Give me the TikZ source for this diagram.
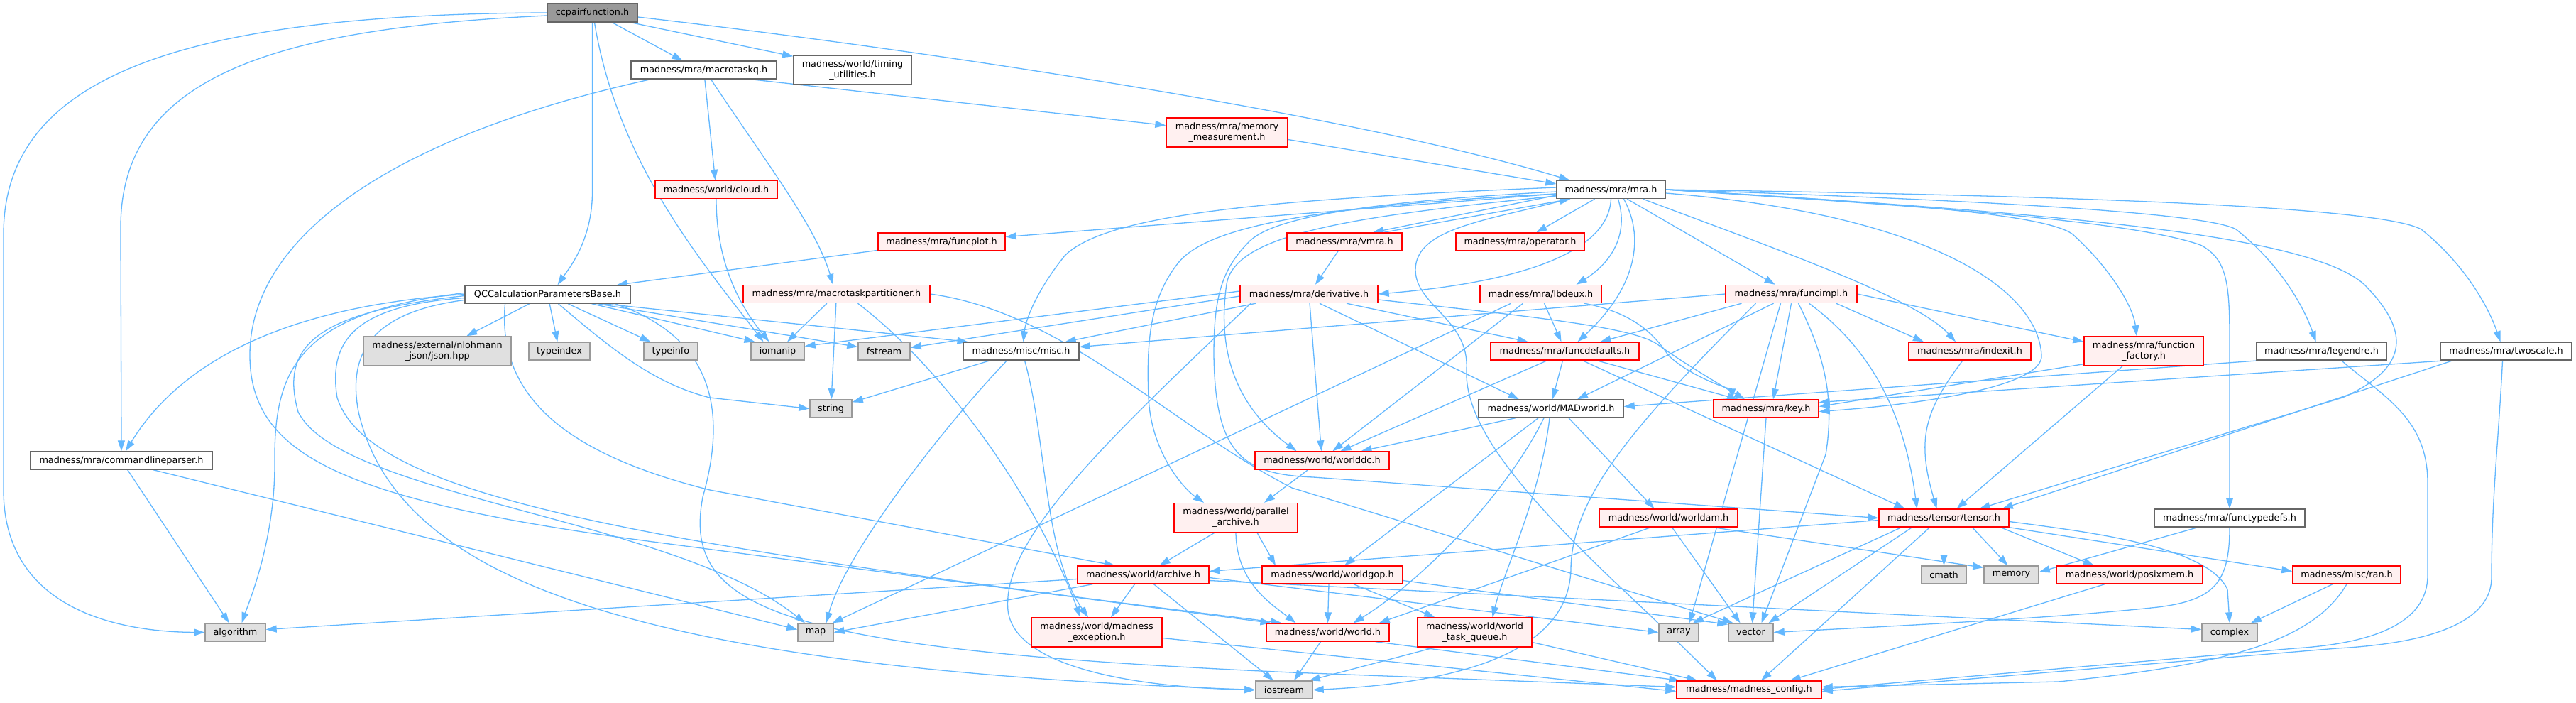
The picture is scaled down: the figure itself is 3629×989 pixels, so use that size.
\documentclass[tikz,border=0pt]{standalone}
\usepackage{fontspec}
\newfontfamily\dvs{DejaVu Sans}
\usetikzlibrary{arrows.meta,calc}
\definecolor{edgeblue}{HTML}{63B8FF}
\definecolor{redfill}{HTML}{FFF0F0}
\definecolor{grayfill}{HTML}{E0E0E0}
\definecolor{gborder}{HTML}{999999}
\definecolor{wborder}{HTML}{666666}
\definecolor{mainfill}{HTML}{999999}
\pgfdeclarelayer{bg}\pgfsetlayers{bg,main}
\newcommand{\nf}{\dvs\fontsize{12.8}{15}\selectfont}
\tikzset{
 base/.style={rectangle, line width=1.4pt, minimum height=25pt, inner sep=0pt, font=\nf, align=center, text=black},
 tall/.style={minimum height=41pt},
 wnode/.style={base, fill=white, draw=wborder},
 gnode/.style={base, fill=grayfill, draw=gborder},
 rnode/.style={base, fill=redfill, draw=red},
 cnode/.style={base, fill=mainfill, draw=wborder},
 e/.style={draw=edgeblue, line width=1.3pt, -{Triangle[length=15pt,width=10pt]}},
}
\begin{document}
\begin{tikzpicture}[x=1pt,y=-1pt]
\useasboundingbox (0,0) rectangle (3629,989);
\node[cnode, minimum width=127pt, minimum height=26pt] (ccpair) at (834.5,18) {ccpairfunction.h};
\node[wnode, minimum width=205pt] (macrotaskq) at (991.5,98.5) {madness/mra/macrotaskq.h};
\node[wnode, tall, minimum width=166pt] (timing) at (1201,98.5) {madness/world/timing\\\_utilities.h};
\node[rnode, tall, minimum width=171pt] (memmeas) at (1728.5,186.5) {madness/mra/memory\\\_measurement.h};
\node[rnode, minimum width=172pt] (cloud) at (1009,267) {madness/world/cloud.h};
\node[wnode, minimum width=153pt] (mra) at (2269.5,267) {madness/mra/mra.h};
\node[rnode, minimum width=179pt] (funcplot) at (1326.5,340.5) {madness/mra/funcplot.h};
\node[rnode, minimum width=162pt] (vmra) at (1894,340.5) {madness/mra/vmra.h};
\node[rnode, minimum width=181pt] (operator) at (2141.5,340.5) {madness/mra/operator.h};
\node[wnode, minimum width=233pt] (QC) at (771.5,414.5) {QCCalculationParametersBase.h};
\node[rnode, minimum width=263pt] (partitioner) at (1178.5,414) {madness/mra/macrotaskpartitioner.h};
\node[rnode, minimum width=194pt] (derivative) at (1844,414) {madness/mra/derivative.h};
\node[rnode, minimum width=171pt] (lbdeux) at (2170.5,414) {madness/mra/lbdeux.h};
\node[rnode, minimum width=185pt] (funcimpl) at (2523.5,414) {madness/mra/funcimpl.h};
\node[gnode, tall, minimum width=208pt] (json) at (616,494.5) {madness/external/nlohmann\\\_json/json.hpp};
\node[gnode, minimum width=86pt] (typeindex) at (788,494.5) {typeindex};
\node[gnode, minimum width=76pt] (typeinfo) at (945,494.5) {typeinfo};
\node[gnode, minimum width=75pt] (iomanip) at (1095.5,494.5) {iomanip};
\node[gnode, minimum width=73pt] (fstream) at (1245.5,494.5) {fstream};
\node[wnode, minimum width=163pt] (misc) at (1438.5,494.5) {madness/misc/misc.h};
\node[rnode, minimum width=209pt] (funcdefaults) at (2204.5,494.5) {madness/mra/funcdefaults.h};
\node[rnode, minimum width=172pt] (indexit) at (2775,494.5) {madness/mra/indexit.h};
\node[rnode, tall, minimum width=168pt] (ffactory) at (3020,494.5) {madness/mra/function\\\_factory.h};
\node[wnode, minimum width=183pt] (legendre) at (3270.5,494.5) {madness/mra/legendre.h};
\node[wnode, minimum width=185pt] (twoscale) at (3530.5,494.5) {madness/mra/twoscale.h};
\node[gnode, minimum width=59pt] (string) at (1170.5,575.5) {string};
\node[wnode, minimum width=204pt] (MADworld) at (2185,575.5) {madness/world/MADworld.h};
\node[rnode, minimum width=148pt] (key) at (2488,575.5) {madness/mra/key.h};
\node[wnode, minimum width=256pt] (clp) at (171,648.5) {madness/mra/commandlineparser.h};
\node[rnode, minimum width=189pt] (worlddc) at (1862.5,648.5) {madness/world/worlddc.h};
\node[rnode, tall, minimum width=174pt] (parch) at (1741,729) {madness/world/parallel\\\_archive.h};
\node[rnode, minimum width=195pt] (worldam) at (2350.5,729.5) {madness/world/worldam.h};
\node[rnode, minimum width=183pt] (tensor) at (2738.5,729.5) {madness/tensor/tensor.h};
\node[wnode, minimum width=212pt] (functypedefs) at (3141,729.5) {madness/mra/functypedefs.h};
\node[rnode, minimum width=185pt] (archive) at (1610.5,809.5) {madness/world/archive.h};
\node[rnode, minimum width=198pt] (worldgop) at (1877,809.5) {madness/world/worldgop.h};
\node[gnode, minimum width=63pt] (cmath) at (2738.5,809.5) {cmath};
\node[gnode, minimum width=77pt] (memory) at (2833.5,809.5) {memory};
\node[rnode, minimum width=206pt] (posixmem) at (3000,809.5) {madness/world/posixmem.h};
\node[rnode, minimum width=152pt] (ran) at (3306,809.5) {madness/misc/ran.h};
\node[gnode, minimum width=85pt] (algorithm) at (331.5,890.5) {algorithm};
\node[gnode, minimum width=50pt] (map) at (1149,890.5) {map};
\node[rnode, tall, minimum width=184pt] (madexc) at (1545,890.5) {madness/world/madness\\\_exception.h};
\node[rnode, minimum width=173pt] (world) at (1870.5,890.5) {madness/world/world.h};
\node[rnode, tall, minimum width=161pt] (taskq) at (2077.5,890.5) {madness/world/world\\\_task\_queue.h};
\node[gnode, minimum width=56pt] (array) at (2365,890.5) {array};
\node[gnode, minimum width=63pt] (vector) at (2466.5,890.5) {vector};
\node[gnode, minimum width=78pt] (complex) at (3141,890.5) {complex};
\node[gnode, minimum width=80pt] (iostream) at (1809,971.5) {iostream};
\node[rnode, minimum width=204pt] (madconfig) at (2464,971.5) {madness/madness\_config.h};

\begin{pgfonlayer}{bg}
\fill[white] (0,0) rectangle (3629,989);
% ccpairfunction.h
\draw[e] (ccpair.west) .. controls (250,20) and (5,110) .. (5,330) -- (5,690) .. controls (5,860) and (170,890) .. (algorithm.west);
\draw[e] ($(ccpair.west)+(0,4)$) .. controls (380,40) and (170,110) .. (170,320) -- (clp.north);
\draw[e] (ccpair.south) -- (834.5,270) .. controls (834.5,340) and (800,380) .. ($(QC.north)+(14,0)$);
\draw[e] ($(ccpair.south)+(3,0)$) .. controls (870,230) and (990,370) .. ($(iomanip.north)+(-20,0)$);
\draw[e] ($(ccpair.south)+(28,0)$) -- ($(macrotaskq.north)+(-30,0)$);
\draw[e] ($(ccpair.south east)+(-10,0)$) -- ($(timing.north west)+(0,2)$);
\draw[e] ($(ccpair.east)+(0,6)$) .. controls (1300,70) and (1900,160) .. ($(mra.north)+(-58,0)$);
% macrotaskq
\draw[e] (macrotaskq) -- (cloud);
\draw[e] ($(macrotaskq.south)+(10,0)$) .. controls (1080,230) and (1150,320) .. ($(partitioner.north)+(-5,0)$);
\draw[e] ($(macrotaskq.south east)+(-37,0)$) -- ($(memmeas.west)+(0,-10)$);
\draw[e] ($(macrotaskq.south)+(-75,0)$) .. controls (560,190) and (352,330) .. (352,500) .. controls (352,640) and (480,705) .. (920,763) -- ($(world.north)+(-80,0)$);
\draw[e] (cloud.south) .. controls (1009,380) and (1050,440) .. ($(iomanip.north)+(-12,0)$);
\draw[e] ($(memmeas.east)+(0,10)$) -- ($(mra.west)+(0,-8)$);
% partitioner
\draw[e] (partitioner) -- (iomanip);
\draw[e] (partitioner) -- (string);
\draw[e] ($(partitioner.south)+(30,0)$) .. controls (1330,520) and (1460,700) .. ($(madexc.north)+(-23,0)$);
\draw[e] (partitioner.east) .. controls (1500,440) and (1650,600) .. (1820,687) -- ($(vector.north)+(-25,0)$);
\draw[e] (funcplot) -- ($(QC.north east)+(-20,0)$);
% QC
\draw[e] (QC.west) .. controls (420,430) and (260,500) .. ($(clp.north)+(6,0)$);
\draw[e] ($(QC.west)+(0,-2)$) .. controls (420,440) and (386,520) .. (387,650) .. controls (388,760) and (350,850) .. ($(algorithm.north)+(9,0)$);
\draw[e] ($(QC.west)+(0,2)$) .. controls (440,440) and (395,490) .. (420,580) .. controls (480,700) and (950,730) .. ($(map.north)+(-15,0)$);
\draw[e] ($(QC.west)+(0,5)$) .. controls (500,430) and (462,480) .. (475,560) .. controls (520,700) and (900,765) .. ($(world.north)+(-65,0)$);
\draw[e] ($(QC.west)+(0,8)$) .. controls (520,440) and (490,500) .. (505,580) .. controls (560,820) and (900,940) .. (iostream.west);
\draw[e] (QC) -- (json);
\draw[e] (QC) -- (typeindex);
\draw[e] (QC) -- (typeinfo);
\draw[e] ($(QC.south)+(15,0)$) .. controls (860,490) and (920,540) .. (1000,560) -- (string.west);
\draw[e] ($(QC.south)+(62,0)$) -- ($(iomanip.north)+(-32,0)$);
\draw[e] ($(QC.south)+(70,0)$) -- ($(fstream.west)+(0,-6)$);
\draw[e] ($(QC.south)+(78,0)$) -- ($(misc.north)+(-75,0)$);
\draw[e] ($(QC.south)+(95,0)$) .. controls (990,470) and (1030,560) .. (990,700) .. controls (960,860) and (1100,915) .. (1820,947) -- ($(madconfig.west)+(0,-4)$);
\draw[e] ($(QC.south)+(-60,0)$) .. controls (700,560) and (800,640) .. (1000,690) -- ($(archive.north)+(-40,0)$);
% commandlineparser
\draw[e] (clp) -- (algorithm);
\draw[e] ($(clp.south)+(45,0)$) -- ($(map.west)+(0,-4)$);
% misc
\draw[e] (misc) -- (string);
\draw[e] ($(misc.south)+(-20,0)$) .. controls (1330,600) and (1190,780) .. ($(map.north)+(15,0)$);
\draw[e] ($(misc.south)+(5,0)$) .. controls (1475,620) and (1470,780) .. ($(madexc.north)+(-12,0)$);
% mra
\draw[e] (mra) -- (funcplot);
\draw[e] ($(mra.west)+(0,8)$) -- ($(vmra.north)+(40,0)$);
\draw[e] ($(vmra.north)+(55,0)$) -- ($(mra.south west)+(20,0)$);
\draw[e] (mra) -- (operator);
\draw[e] (mra.south) .. controls (2265,380) and (2050,405) .. (derivative.east);
\draw[e] ($(mra.south)+(10,0)$) .. controls (2295,330) and (2270,370) .. ($(lbdeux.north)+(50,0)$);
\draw[e] ($(mra.south)+(18,0)$) .. controls (2320,340) and (2300,410) .. ($(funcdefaults.north)+(18,0)$);
\draw[e] (mra) -- (funcimpl);
\draw[e] ($(mra.south)+(45,0)$) .. controls (2500,350) and (2700,420) .. ($(indexit.north)+(-20,0)$);
\draw[e] (mra.east) .. controls (2650,285) and (2880,300) .. (2920,330) .. controls (2970,375) and (3005,430) .. ($(ffactory.north)+(-10,0)$);
\draw[e] (mra.east) .. controls (2800,282) and (3110,300) .. (3150,323) .. controls (3210,370) and (3245,430) .. ($(legendre.north)+(-8,0)$);
\draw[e] (mra.east) .. controls (2900,275) and (3350,290) .. (3411,323) .. controls (3470,370) and (3505,430) .. ($(twoscale.north)+(-8,0)$);
\draw[e] (mra.east) .. controls (2700,290) and (3000,310) .. (3100,345) .. controls (3138,365) and (3141,400) .. (3141,480) -- (functypedefs.north);
\draw[e] (mra.east) .. controls (2900,300) and (3250,330) .. (3330,400) .. controls (3400,470) and (3390,520) .. (3300,560) -- ($(tensor.north)+(50,0)$);
\draw[e] ($(mra.east)+(0,5)$) .. controls (2700,300) and (2870,400) .. (2876,500) .. controls (2880,545) and (2700,570) .. ($(key.east)+(0,4)$);
\draw[e] ($(mra.west)+(0,-3)$) .. controls (1800,280) and (1560,300) .. (1500,360) .. controls (1460,410) and (1445,450) .. ($(misc.north)+(3,0)$);
\draw[e] ($(mra.west)+(0,3)$) .. controls (1900,285) and (1790,310) .. (1760,340) .. controls (1720,380) and (1710,420) .. (1710,500) .. controls (1712,640) and (1750,668) .. (1850,672) -- (tensor.west);
\draw[e] ($(mra.west)+(0,6)$) .. controls (1850,290) and (1700,320) .. (1660,370) .. controls (1620,420) and (1615,480) .. (1618,560) .. controls (1622,640) and (1670,690) .. ($(parch.north)+(-45,0)$);
\draw[e] ($(mra.west)+(0,9)$) .. controls (1900,305) and (1740,330) .. (1728,400) .. controls (1718,470) and (1725,560) .. ($(worlddc.north)+(-36,0)$);
\draw[e] ($(mra.south)+(-60,0)$) .. controls (2100,310) and (1994,320) .. (1994,380) .. controls (1994,430) and (2070,450) .. (2066,520) .. controls (2062,600) and (2150,700) .. (2270,815) .. controls (2350,890) and (2390,930) .. ($(madconfig.north)+(-45,0)$);
\draw[e] (vmra) -- (derivative);
% derivative
\draw[e] ($(derivative.west)+(0,-4)$) -- ($(iomanip.east)+(0,-7)$);
\draw[e] ($(derivative.west)+(0,3)$) -- ($(fstream.east)+(0,-5)$);
\draw[e] ($(derivative.south)+(-75,0)$) -- ($(misc.north east)+(-20,0)$);
\draw[e] ($(derivative.south)+(-82,0)$) .. controls (1560,620) and (1410,760) .. (1420,860) .. controls (1430,940) and (1600,968) .. (iostream.west);
\draw[e] (derivative) -- (worlddc);
\draw[e] ($(derivative.south)+(15,0)$) -- ($(MADworld.north)+(-45,0)$);
\draw[e] ($(derivative.south)+(53,0)$) -- ($(funcdefaults.north)+(-52,0)$);
\draw[e] ($(derivative.east)+(0,8)$) .. controls (2150,445) and (2300,460) .. (2335,485) .. controls (2370,510) and (2420,540) .. ($(key.north)+(-30,0)$);
% lbdeux
\draw[e] ($(lbdeux.south)+(-42,0)$) -- ($(map.north east)+(-2,0)$);
\draw[e] ($(lbdeux.south)+(-25,0)$) -- ($(worlddc.north)+(15,0)$);
\draw[e] ($(lbdeux.south)+(5,0)$) -- ($(funcdefaults.north)+(-5,0)$);
\draw[e] ($(lbdeux.south east)+(-25,0)$) .. controls (2300,440) and (2330,470) .. (2350,500) .. controls (2380,530) and (2440,550) .. ($(key.north)+(-48,0)$);
% funcimpl
\draw[e] (funcimpl.west) -- ($(misc.east)+(0,-6)$);
\draw[e] ($(funcimpl.south)+(-70,0)$) -- ($(funcdefaults.north)+(50,0)$);
\draw[e] ($(funcimpl.south)+(-25,0)$) -- ($(MADworld.north)+(37,0)$);
\draw[e] ($(funcimpl.south)+(-15,0)$) -- ($(array.north)+(15,0)$);
\draw[e] ($(funcimpl.south)+(0,0)$) -- ($(key.north)+(10,0)$);
\draw[e] ($(funcimpl.south)+(10,0)$) .. controls (2570,500) and (2585,560) .. (2572,640) -- ($(vector.north)+(15,0)$);
\draw[e] ($(funcimpl.south)+(25,0)$) .. controls (2620,480) and (2680,560) .. ($(tensor.north)+(-38,0)$);
\draw[e] ($(funcimpl.south east)+(-30,0)$) -- ($(indexit.north)+(-65,0)$);
\draw[e] (funcimpl.east) -- ($(ffactory.north west)+(0,8)$);
\draw[e] ($(funcimpl.south)+(-50,0)$) .. controls (2300,600) and (2215,700) .. (2213,800) .. controls (2212,900) and (2100,960) .. (iostream.east);
% funcdefaults
\draw[e] ($(funcdefaults.south)+(-25,0)$) -- ($(worlddc.north)+(26,0)$);
\draw[e] ($(funcdefaults.south)+(-3,0)$) -- ($(MADworld.north)+(2,0)$);
\draw[e] ($(funcdefaults.south)+(25,0)$) -- ($(tensor.north)+(-55,0)$);
\draw[e] ($(funcdefaults.south)+(45,0)$) -- ($(key.north)+(-40,0)$);
% MADworld
\draw[e] ($(MADworld.south)+(-50,0)$) -- ($(worlddc.north)+(55,0)$);
\draw[e] ($(MADworld.south)+(-18,0)$) -- ($(worldgop.north)+(17,0)$);
\draw[e] ($(MADworld.south)+(-10,0)$) .. controls (2120,700) and (2000,820) .. ($(world.north)+(36,0)$);
\draw[e] ($(MADworld.south)+(-2,0)$) .. controls (2170,700) and (2120,800) .. ($(taskq.north)+(25,0)$);
\draw[e] ($(MADworld.south)+(25,0)$) -- ($(worldam.north)+(-20,0)$);
\draw[e] (key.south) -- ($(vector.north)+(2,0)$);
\draw[e] ($(worlddc.south)+(-20,0)$) -- ($(parch.north)+(40,0)$);
% parallel archive
\draw[e] ($(parch.south)+(-30,0)$) -- ($(archive.north)+(23,0)$);
\draw[e] (parch.south) .. controls (1742,820) and (1790,850) .. ($(world.north)+(-45,0)$);
\draw[e] ($(parch.south)+(30,0)$) -- ($(worldgop.north)+(-80,0)$);
% archive
\draw[e] ($(archive.west)+(0,6)$) -- ($(algorithm.east)+(0,-4)$);
\draw[e] ($(archive.south west)+(22,0)$) -- (map.east);
\draw[e] ($(archive.south)+(-12,0)$) -- ($(madexc.north)+(20,0)$);
\draw[e] ($(archive.south)+(15,0)$) -- ($(iostream.north)+(-15,0)$);
\draw[e] ($(archive.east)+(0,4)$) -- (array.west);
\draw[e] ($(archive.east)+(0,8)$) -- ($(complex.west)+(0,-4)$);
% tensor
\draw[e] ($(tensor.west)+(0,3)$) -- ($(archive.east)+(0,-5)$);
\draw[e] (tensor) -- (cmath);
\draw[e] ($(tensor.south)+(40,0)$) -- ($(memory.north)+(-5,0)$);
\draw[e] ($(tensor.south)+(80,0)$) -- ($(posixmem.north)+(-50,0)$);
\draw[e] (tensor.south east) -- ($(ran.west)+(0,-5)$);
\draw[e] ($(tensor.east)+(0,5)$) .. controls (2950,750) and (3110,770) .. (3138,830) -- (complex.north);
\draw[e] ($(tensor.south)+(-60,0)$) -- ($(array.north)+(20,0)$);
\draw[e] ($(tensor.south)+(-45,0)$) -- ($(vector.north)+(25,0)$);
\draw[e] ($(tensor.south)+(-20,0)$) -- ($(madconfig.north)+(17,0)$);
% functypedefs
\draw[e] ($(functypedefs.south)+(-45,0)$) -- ($(memory.east)+(0,-4)$);
\draw[e] (functypedefs.south) .. controls (3141,820) and (3120,845) .. (3040,855) .. controls (2900,870) and (2700,880) .. (vector.east);
% worldam
\draw[e] ($(worldam.south)+(-25,0)$) -- ($(world.north east)+(-15,0)$);
\draw[e] ($(worldam.south)+(5,0)$) -- ($(vector.north)+(-15,0)$);
\draw[e] ($(worldam.south east)+(-35,0)$) -- ($(memory.north west)+(0,3)$);
% worldgop
\draw[e] ($(worldgop.south)+(-5,0)$) -- (world.north);
\draw[e] ($(worldgop.south)+(30,0)$) -- ($(taskq.north west)+(25,0)$);
\draw[e] ($(worldgop.east)+(0,8)$) -- ($(vector.north west)+(0,2)$);
% world, taskq, madexc
\draw[e] ($(world.south)+(-10,0)$) -- ($(iostream.north)+(14,0)$);
\draw[e] ($(world.south east)+(-20,0)$) -- ($(madconfig.north west)+(5,0)$);
\draw[e] ($(taskq.south west)+(25,0)$) -- ($(iostream.north east)+(-5,0)$);
\draw[e] ($(taskq.east)+(0,14)$) -- ($(madconfig.north west)+(30,0)$);
\draw[e] ($(madexc.east)+(0,8)$) -- ($(madconfig.west)+(0,2)$);
% posixmem, ran
\draw[e] ($(posixmem.south)+(-35,0)$) -- ($(madconfig.north east)+(-45,0)$);
\draw[e] ($(ran.south)+(-20,0)$) -- ($(complex.north)+(30,0)$);
\draw[e] (ran.south) .. controls (3260,900) and (3150,935) .. (2900,960) -- ($(madconfig.east)+(0,-4)$);
% legendre, twoscale, function_factory, indexit
\draw[e] ($(legendre.south west)+(5,0)$) -- ($(MADworld.east)+(0,-3)$);
\draw[e] ($(legendre.south)+(28,0)$) .. controls (3360,560) and (3420,590) .. (3420,680) -- (3420,810) .. controls (3420,870) and (3360,905) .. (3233,913) -- ($(madconfig.east)+(0,-1)$);
\draw[e] ($(twoscale.south west)+(10,0)$) -- ($(key.east)+(0,-9)$);
\draw[e] ($(twoscale.south)+(-75,0)$) -- ($(tensor.north east)+(-10,0)$);
\draw[e] ($(twoscale.south)+(-5,0)$) .. controls (3520,620) and (3510,700) .. (3510,813) .. controls (3510,870) and (3440,905) .. (3292,913) -- ($(madconfig.east)+(0,2)$);
\draw[e] ($(ffactory.south west)+(0,-3)$) -- ($(key.east)+(0,-3)$);
\draw[e] ($(ffactory.south)+(-30,0)$) -- ($(tensor.north)+(18,0)$);
\draw[e] ($(indexit.south)+(-10,0)$) .. controls (2710,580) and (2700,620) .. ($(tensor.north)+(-10,0)$);
\end{pgfonlayer}
\end{tikzpicture}
\end{document}
